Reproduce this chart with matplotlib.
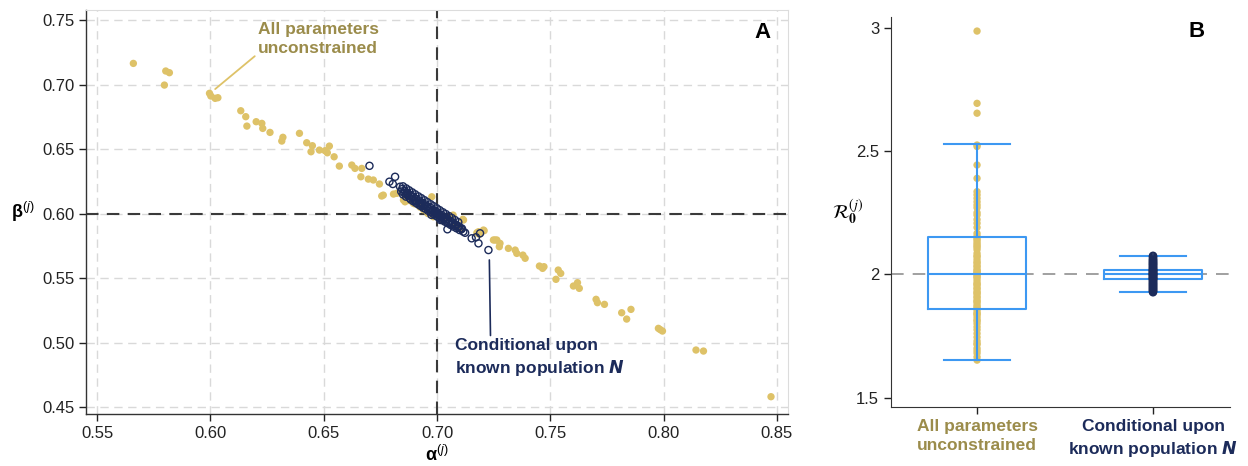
import matplotlib
matplotlib.use("Agg")
import matplotlib.pyplot as plt

plt.rcParams['font.family'] = ['Liberation Sans', 'DejaVu Sans']
plt.rcParams['mathtext.fontset'] = 'custom'
plt.rcParams['mathtext.rm'] = 'Liberation Sans'
plt.rcParams['mathtext.it'] = 'Liberation Sans:italic'
plt.rcParams['mathtext.bf'] = 'Liberation Sans:bold'

# ---------------- data: panel A ----------------
alpha_unc = [0.5660, 0.5803, 0.5819, 0.5797, 0.5996, 0.6002, 0.6021, 0.6033,
             0.6134, 0.6156, 0.6161, 0.6202, 0.6227, 0.6231, 0.6263, 0.6320,
             0.6315, 0.6393, 0.6425, 0.6450, 0.6444, 0.6481, 0.6506, 0.6525,
             0.6516, 0.6546, 0.6569, 0.6624, 0.6638, 0.6668, 0.6664, 0.6697,
             0.6719, 0.6746, 0.6756, 0.6808, 0.6823, 0.6859, 0.6903, 0.6977,
             0.6984, 0.6852, 0.6763, 0.6896, 0.7071, 0.7114, 0.7117, 0.7102,
             0.7183, 0.7205, 0.7176, 0.7187, 0.7208, 0.7249, 0.7264, 0.7278,
             0.7275, 0.7256, 0.7315, 0.7345, 0.7352, 0.7379, 0.7389, 0.7452,
             0.7472, 0.7466, 0.7535, 0.7546, 0.7525, 0.7602, 0.7620, 0.7628,
             0.7702, 0.7708, 0.7739, 0.7815, 0.7837, 0.7856, 0.7977, 0.7995,
             0.7985, 0.8143, 0.8176, 0.8474, 0.6880, 0.6940, 0.7030, 0.7080,
             0.6925, 0.6960, 0.7010]
beta_unc = [0.7164, 0.7105, 0.7092, 0.6996, 0.6932, 0.6911, 0.6893, 0.6898,
            0.6797, 0.6751, 0.6678, 0.6712, 0.6699, 0.6660, 0.6629, 0.6591,
            0.6562, 0.6622, 0.6549, 0.6526, 0.6479, 0.6492, 0.6487, 0.6523,
            0.6471, 0.6440, 0.6368, 0.6376, 0.6350, 0.6350, 0.6285, 0.6267,
            0.6260, 0.6229, 0.6136, 0.6151, 0.6157, 0.6091, 0.6074, 0.6130,
            0.5975, 0.6105, 0.6143, 0.6079, 0.5988, 0.5955, 0.5950, 0.5885,
            0.5859, 0.5872, 0.5851, 0.5839, 0.5867, 0.5795, 0.5795, 0.5769,
            0.5743, 0.5795, 0.5730, 0.5717, 0.5691, 0.5678, 0.5653, 0.5593,
            0.5588, 0.5575, 0.5562, 0.5536, 0.5490, 0.5438, 0.5464, 0.5420,
            0.5335, 0.5309, 0.5296, 0.5231, 0.5182, 0.5257, 0.5110, 0.5089,
            0.5100, 0.4942, 0.4934, 0.4580, 0.6100, 0.6030, 0.5940, 0.5910,
            0.6050, 0.6000, 0.5960]

alpha_cond = [0.6702, 0.6790, 0.6805, 0.6815, 0.6837, 0.7046, 0.7153, 0.7172,
              0.7183, 0.7190, 0.7227,
              0.6842, 0.6850, 0.6856, 0.6863, 0.6870, 0.6878, 0.6884, 0.6889,
              0.6895, 0.6901, 0.6907, 0.6912, 0.6918, 0.6923, 0.6929, 0.6934,
              0.6940, 0.6945, 0.6950, 0.6956, 0.6961, 0.6966, 0.6972, 0.6977,
              0.6983, 0.6988, 0.6993, 0.6998, 0.7004, 0.7009, 0.7014, 0.7020,
              0.7025, 0.7031, 0.7036, 0.7042, 0.7048, 0.7054, 0.7060, 0.7066,
              0.7072, 0.7079, 0.7086, 0.7093, 0.7100, 0.7108, 0.7116, 0.7124,
              0.6975, 0.7002, 0.6990, 0.7015, 0.6935, 0.7045, 0.6880, 0.6868,
              0.6846, 0.6858, 0.6871, 0.6883, 0.6896, 0.6908, 0.6921, 0.6933,
              0.6946, 0.6958, 0.6971, 0.6983, 0.6996, 0.7008, 0.7021, 0.7033,
              0.7046, 0.7058, 0.7071, 0.7084, 0.7097, 0.7110,
              0.6850, 0.6864, 0.6877, 0.6891, 0.6904, 0.6918, 0.6931, 0.6945,
              0.6958, 0.6972, 0.6985, 0.6999, 0.7012, 0.7026, 0.7039, 0.7053,
              0.7066, 0.7080, 0.7094]
beta_cond = [0.6370, 0.6247, 0.6229, 0.6285, 0.6208, 0.5878, 0.5808, 0.5816,
             0.5769, 0.5847, 0.5717,
             0.6171, 0.6148, 0.6160, 0.6131, 0.6142, 0.6122, 0.6109, 0.6131,
             0.6096, 0.6104, 0.6083, 0.6095, 0.6070, 0.6081, 0.6058, 0.6066,
             0.6044, 0.6059, 0.6036, 0.6047, 0.6021, 0.6033, 0.6010, 0.6022,
             0.5998, 0.6008, 0.5985, 0.5996, 0.5973, 0.5984, 0.5962, 0.5970,
             0.5948, 0.5958, 0.5936, 0.5945, 0.5925, 0.5932, 0.5912, 0.5921,
             0.5899, 0.5906, 0.5886, 0.5893, 0.5872, 0.5879, 0.5860, 0.5851,
             0.5990, 0.5995, 0.6020, 0.5950, 0.6080, 0.5960, 0.6140, 0.6155,
             0.6190, 0.6175, 0.6160, 0.6143, 0.6131, 0.6114, 0.6102, 0.6086,
             0.6073, 0.6057, 0.6045, 0.6029, 0.6016, 0.6000, 0.5988, 0.5971,
             0.5959, 0.5943, 0.5931, 0.5914, 0.5901, 0.5884,
             0.6211, 0.6195, 0.6180, 0.6164, 0.6149, 0.6133, 0.6119, 0.6103,
             0.6088, 0.6072, 0.6057, 0.6041, 0.6026, 0.6010, 0.5996, 0.5980,
             0.5965, 0.5949, 0.5933]

alpha_true = 0.70
beta_true = 0.60
xticks_a = [0.55, 0.60, 0.65, 0.70, 0.75, 0.80, 0.85]
yticks_a = [0.45, 0.50, 0.55, 0.60, 0.65, 0.70, 0.75]

# ---------------- data: panel B ----------------
categories = ['All parameters\nunconstrained', 'Conditional upon\nknown population $\\mathbfit{N}$']
r0_unc = [2.986, 2.693, 2.653, 2.524, 2.518, 2.443, 2.389, 2.335, 2.322, 2.308,
          2.294, 2.281, 2.270, 2.250, 2.240, 2.222, 2.207, 2.190, 2.166, 2.155,
          2.139, 2.130, 2.122, 2.109, 2.100, 2.085, 2.075, 2.071, 2.060, 2.050,
          2.045, 2.035, 2.030, 2.020, 2.015, 2.010, 2.005, 2.002, 2.145, 2.115,
          1.995, 1.985, 1.975, 1.965, 1.955, 1.945, 1.940, 1.930, 1.920, 1.910,
          1.905, 1.895, 1.885, 1.875, 1.868, 1.862, 1.990, 1.960, 1.925, 1.890,
          1.855, 1.845, 1.835, 1.825, 1.815, 1.800, 1.787, 1.775, 1.760, 1.745,
          1.730, 1.715, 1.700, 1.690, 1.680, 1.665, 1.652, 1.840, 1.810, 1.720]
r0_cond = [2.075, 2.068, 2.060, 2.055, 2.050, 2.045, 2.040, 2.035, 2.030, 2.025,
           2.022, 2.018, 2.015, 2.012, 2.010, 2.008, 2.005, 2.003, 2.000, 1.998,
           1.996, 1.993, 1.990, 1.988, 1.985, 1.982, 1.978, 1.975, 1.970, 1.965,
           1.960, 1.955, 1.950, 1.945, 1.940, 1.935, 1.930, 1.927, 2.001, 1.999,
           2.006, 1.994, 2.013, 1.987, 2.020, 1.980, 2.072, 2.064, 2.058, 2.052,
           2.047, 2.042, 2.038, 2.032, 2.027, 2.017, 1.983, 1.973, 1.967, 1.962,
           1.957, 1.952, 1.947, 1.942, 1.937, 1.932]
box_q1 = [1.859, 1.981]
box_med = [2.000, 2.000]
box_q3 = [2.151, 2.016]
box_whislo = [1.651, 1.927]
box_whishi = [2.527, 2.075]
r0_true = 2.0
yticks_b = [1.5, 2.0, 2.5, 3.0]
yticklabels_b = ['1.5', '2', '2.5', '3']

# ---------------- styling ----------------
YEL = '#DEC268'
YEL_TXT = '#9B8C4B'
NAVY = '#1C2B5A'
BOXBLUE = '#3D98F2'

fig = plt.figure(figsize=(12.48, 4.66), dpi=100)
axA = fig.add_axes([86/1248, 52/466, 702/1248, 404/466])
axB = fig.add_axes([891/1248, 59/466, 339/1248, 390/466])

# ---- Panel A ----
for v in xticks_a:
    axA.axvline(v, color='#d9d9d9', lw=1.0, dashes=(6, 4), zorder=0)
for v in yticks_a:
    axA.axhline(v, color='#d9d9d9', lw=1.0, dashes=(6, 4), zorder=0)
axA.axvline(alpha_true, color='#3a3a3a', lw=1.5, dashes=(6, 4), zorder=1)
axA.axhline(beta_true, color='#3a3a3a', lw=1.5, dashes=(6, 4), zorder=1)

axA.scatter(alpha_unc, beta_unc, s=28, color=YEL, edgecolors='none', zorder=2)
axA.scatter(alpha_cond, beta_cond, s=26, facecolors='none', edgecolors=NAVY,
            linewidths=1.0, zorder=3)

axA.set_xlim(0.5451, 0.8549)
axA.set_ylim(0.4446, 0.7578)
axA.set_xticks(xticks_a)
axA.set_xticklabels([f'{v:.2f}' for v in xticks_a])
axA.set_yticks(yticks_a)
axA.set_yticklabels([f'{v:.2f}' for v in yticks_a])
axA.tick_params(axis='both', labelsize=12, length=5, width=1.0, colors='#222222',
                direction='out')
for side in ['top', 'right']:
    axA.spines[side].set_color('#dcdcdc')
for side in ['left', 'bottom']:
    axA.spines[side].set_color('#333333')
    axA.spines[side].set_linewidth(1.0)

axA.set_xlabel(r'$\mathbf{α}^{\mathit{(j)}}$', fontsize=13, labelpad=3)
axA.set_ylabel(r'$\mathbf{β}^{\mathit{(j)}}$', fontsize=13, rotation=0, labelpad=14,
               va='center')

axA.annotate('All parameters\nunconstrained', xy=(0.6021, 0.6965), xytext=(0.6475, 0.7355),
             ha='center', va='center', fontsize=12.5, fontweight='bold', color=YEL_TXT,
             linespacing=1.3,
             arrowprops=dict(arrowstyle='-', color=YEL, lw=1.3, shrinkA=0, shrinkB=0,
                             relpos=(0.0, 0.05)))
axA.annotate('Conditional upon\nknown population $\\mathbfit{N}$', xy=(0.7231, 0.5640),
             xytext=(0.7079, 0.4880), ha='left', va='center', fontsize=12.5,
             fontweight='bold', color=NAVY, linespacing=1.3,
             arrowprops=dict(arrowstyle='-', color=NAVY, lw=1.2, shrinkA=0, shrinkB=0,
                             relpos=(0.21, 1.0)))
axA.text(0.975, 0.97, 'A', transform=axA.transAxes, ha='right', va='top',
         fontsize=16, fontweight='bold')

# ---- Panel B ----
axB.axhline(r0_true, color='#999999', lw=1.3, dashes=(7, 5), zorder=0)
axB.scatter([0] * len(r0_unc), r0_unc, s=28, color=YEL, edgecolors='none', zorder=1)
stats = []
for i in range(2):
    stats.append(dict(med=box_med[i], q1=box_q1[i], q3=box_q3[i],
                      whislo=box_whislo[i], whishi=box_whishi[i], fliers=[]))
axB.bxp(stats, positions=[0, 1], widths=0.557, showfliers=False, patch_artist=False,
        boxprops=dict(color=BOXBLUE, lw=1.5), medianprops=dict(color=BOXBLUE, lw=1.5),
        whiskerprops=dict(color=BOXBLUE, lw=1.5), capprops=dict(color=BOXBLUE, lw=1.5),
        capwidths=0.375, zorder=2)
axB.scatter([1] * len(r0_cond), r0_cond, s=26, facecolors='none', edgecolors=NAVY,
            linewidths=1.0, zorder=3)

axB.set_xlim(-0.489, 1.4375)
axB.set_ylim(1.462, 3.043)
axB.set_yticks(yticks_b)
axB.set_yticklabels(yticklabels_b)
axB.set_xticks([0, 1])
axB.set_xticklabels(categories, fontsize=12.5, fontweight='bold', linespacing=1.3)
axB.tick_params(axis='both', length=5, width=1.0, colors='#222222', direction='out')
axB.tick_params(axis='y', labelsize=12)
axB.tick_params(axis='x', pad=4)
for lab, c in zip(axB.get_xticklabels(), [YEL_TXT, NAVY]):
    lab.set_color(c)
for side in ['top', 'right']:
    axB.spines[side].set_visible(False)
for side in ['left', 'bottom']:
    axB.spines[side].set_color('#333333')
axB.set_ylabel(r'$\mathcal{R}_{\mathbf{0}}^{(j)}$', fontsize=14, rotation=0,
               labelpad=6, va='center', math_fontfamily='stix')
axB.text(0.925, 0.99, 'B', transform=axB.transAxes, ha='right', va='top',
         fontsize=16, fontweight='bold')

fig.savefig('out.png', dpi=100)
